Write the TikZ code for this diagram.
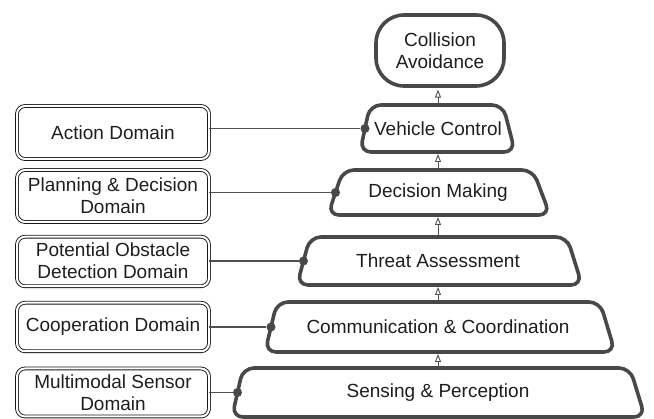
\documentclass[tikz,border=0pt]{standalone}
\usepackage{fontspec}
\setmainfont{Liberation Sans}
\usetikzlibrary{arrows.meta}
\definecolor{shapec}{HTML}{484848}
\definecolor{txtc}{HTML}{1E1E1E}
\definecolor{connc}{HTML}{505050}
\begin{document}
\begin{tikzpicture}[x=1pt,y=-1pt,
  font=\fontsize{19}{22}\selectfont,
  layer/.style={draw=shapec, line width=3.6pt, rounded corners=11pt, fill=white},
  lbl/.style={text=txtc, align=center, inner sep=0pt},
  domainbox/.style={draw=black!90, double=white, double distance=2pt, line width=0.9pt,
    rounded corners=8pt, minimum width=192pt, inner sep=0pt, text=txtc, align=center},
  connline/.style={draw=connc, line width=1.1pt},
  dotnode/.style={circle, fill=shapec, inner sep=0pt, minimum size=9pt},
  uparrow/.style={draw=connc, line width=0.9pt, -{Triangle[open, length=8pt, width=6pt]}}
]
\useasboundingbox (0,0) rectangle (654,419);

% Collision avoidance
\node[draw=shapec, line width=3.6pt, rounded corners=28pt, minimum width=128pt,
  minimum height=71pt, align=center, text=txtc, inner sep=0pt] (ca) at (440,50.5) {Collision\\Avoidance};

% Layer shapes
\draw[layer] (370,105) -- (503,105) -- (515,152) -- (360,152) -- cycle;
\draw[layer] (343,170) -- (533,170) -- (550,215) -- (328,215) -- cycle;
\draw[layer] (310,237) -- (567,237) -- (582,285) -- (297,285) -- cycle;
\draw[layer] (277,302) -- (600,302) -- (615,352) -- (265,352) -- cycle;
\draw[layer] (243,368) -- (630,368) -- (645,417) -- (232,417) -- cycle;

\node[lbl] (vc) at (438,128.5) {Vehicle Control};
\node[lbl] (dm) at (438,192.5) {Decision Making};
\node[lbl] (ta) at (438,261) {Threat Assessment};
\node[lbl] (cc) at (438,327) {Communication \& Coordination};
\node[lbl] (sp) at (438,392.5) {Sensing \& Perception};

% top / bottom midpoints
\coordinate (vctop) at (438,103);
\coordinate (vcbot) at (438,154);
\coordinate (dmtop) at (438,168);
\coordinate (dmbot) at (438,217);
\coordinate (tatop) at (438,235);
\coordinate (tabot) at (438,287);
\coordinate (cctop) at (438,300);
\coordinate (ccbot) at (438,354);
\coordinate (sptop) at (438,366);

% arrows
\draw[uparrow] (vctop) -- ([yshift=-1.8pt]vctop |- ca.south);
\draw[uparrow] (dmtop) -- (vcbot);
\draw[uparrow] (tatop) -- (dmbot);
\draw[uparrow] (cctop) -- (tabot);
\draw[uparrow] (sptop) -- (ccbot);

% domain boxes
\node[domainbox, minimum height=53pt] (act) at (113,132.5) {Action Domain};
\node[domainbox, minimum height=52pt] (pdd) at (113,196) {Planning \& Decision\\Domain};
\node[domainbox, minimum height=49.5pt] (pod) at (113,261.5) {};
\node[lbl, fill=white, inner sep=1.6pt] (podtxt) at (113,261) {Potential Obstacle\\Detection Domain};
\node[domainbox, minimum height=48.5pt] (coop) at (113,327) {Cooperation Domain};
\node[domainbox, minimum height=48pt] (mms) at (113,392.5) {Multimodal Sensor\\Domain};

% dots on layer left edges
\node[dotnode] (vcdot) at (365,128.5) {};
\node[dotnode] (dmdot) at (335.5,192.5) {};
\node[dotnode] (tadot) at (303.5,261) {};
\node[dotnode] (ccdot) at (271,327) {};
\node[dotnode] (spdot) at (237.5,392.5) {};

% connectors
\draw[connline] (vcdot -| act.east) -- (vcdot);
\draw[connline] (dmdot -| pdd.east) -- (dmdot);
\draw[connline] (tadot -| pod.east) -- (tadot);
\draw[connline] (ccdot -| coop.east) -- (ccdot);
\draw[connline] (spdot -| mms.east) -- (spdot);
\end{tikzpicture}
\end{document}
